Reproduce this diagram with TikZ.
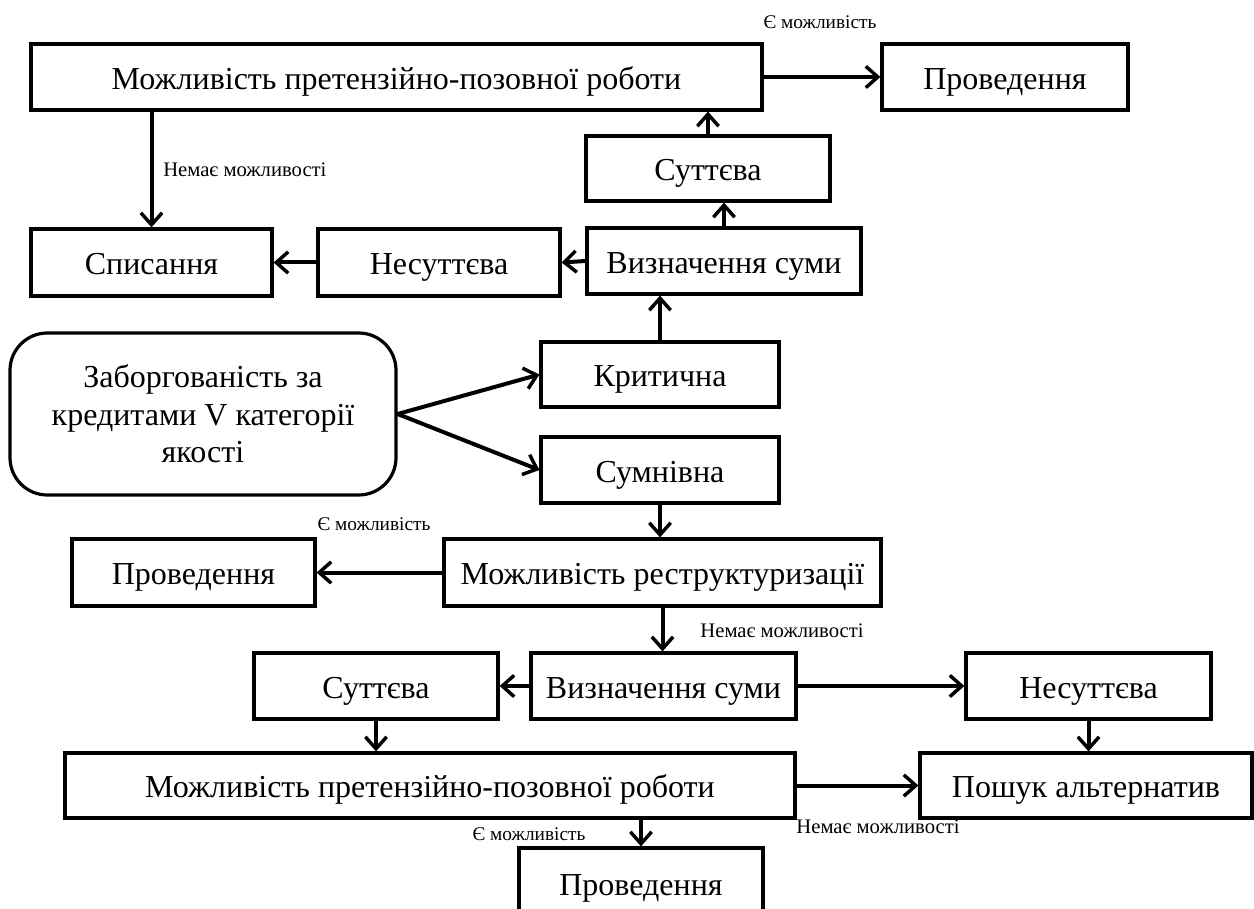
\documentclass[tikz,border=0pt]{standalone}
\usepackage{fontspec}
\setmainfont{Liberation Serif}
\usetikzlibrary{arrows.meta}
\tikzset{
  base/.style={draw, line width=2.4pt, inner sep=0pt, align=center, font=\fontsize{24}{28}\selectfont},
  box/.style={base, text height=18.5pt, text depth=0pt},
  rbox/.style={base, rounded corners=28pt},
  conn/.style={line width=3pt, -{Straight Barb[length=9pt, width=16pt, line width=2.6pt]}},
  lbl/.style={inner sep=0pt, font=\fontsize{14.5}{16}\selectfont},
  lblw/.style={lbl, font=\fontsize{15.5}{17}\selectfont},
}
\newcommand\bx[7][box]{\node[#1, minimum width={(#5-#3)*0.75pt}, minimum height={(#6-#4)*0.75pt}] (#2) at ({(#3+#5)/2},{(#4+#6)/2}) {#7};}
\begin{document}
\begin{tikzpicture}[x=0.75pt, y=-0.75pt]
\useasboundingbox (0,0) rectangle (1254,909);
% top part
\bx{A}{31}{44}{762}{110}{Можливість претензійно-позовної роботи}
\bx{B}{882}{44}{1128}{110}{Проведення}
\bx{C}{586}{136}{830}{201}{Суттєва}
\bx{D}{587}{228}{861}{294}{Визначення суми}
\bx{E}{31}{229}{272}{296}{Списання}
\bx{F}{318}{229}{560}{296}{Несуттєва}
\bx[rbox]{G}{10}{333}{396}{495}{Заборгованість за\\кредитами V категорії\\якості}
\bx{Kr}{541}{342}{779}{407}{Критична}
\bx{H}{541}{437}{779}{503}{Сумнівна}
\bx{I}{444}{539}{881}{606}{Можливість реструктуризації}
\bx{J}{72}{539}{315}{606}{Проведення}
\bx{K}{531}{653}{796}{719}{Визначення суми}
\bx{L}{254}{653}{498}{719}{Суттєва}
\bx{M}{966}{653}{1211}{719}{Несуттєва}
\bx{N}{65}{753}{795}{818}{Можливість претензійно-позовної роботи}
\bx{O}{920}{753}{1252}{818}{Пошук альтернатив}
\bx{P}{519}{848}{763}{918}{Проведення}
% labels
\node[lbl] (l1) at (820,22) {Є можливість};
\node[lblw, anchor=west] (l2) at (163,170) {Немає можливості};
\node[lbl] (l3) at (374,524) {Є можливість};
\node[lblw] (l4) at (782,631) {Немає можливості};
\node[lblw] (l5) at (878,827) {Немає можливості};
\node[lbl] (l6) at (529,834) {Є можливість};
% connectors
\draw[conn] (A.east) -- (B.west);
\draw[conn] (E.north |- A.south) -- (E.north);
\draw[conn] (C.north) -- (C.north |- A.south);
\draw[conn] (D.north) -- (D.north |- C.south);
\draw[conn] (D.west) -- (F.east);
\draw[conn] (F.west) -- (E.east);
\draw[conn] (Kr.north) -- (Kr.north |- D.south);
\draw[conn] (G.east) -- (Kr.west);
\draw[conn] (G.east) -- (H.west);
\draw[conn] (H.south) -- (H.south |- I.north);
\draw[conn] (I.west) -- (J.east);
\draw[conn] (I.south) -- (I.south |- K.north);
\draw[conn] (K.west) -- (L.east);
\draw[conn] (K.east) -- (M.west);
\draw[conn] (L.south) -- (L.south |- N.north);
\draw[conn] (M.south) -- (M.south |- O.north);
\draw[conn] (N.east) -- (O.west);
\draw[conn] (P.north |- N.south) -- (P.north);
\end{tikzpicture}
\end{document}
